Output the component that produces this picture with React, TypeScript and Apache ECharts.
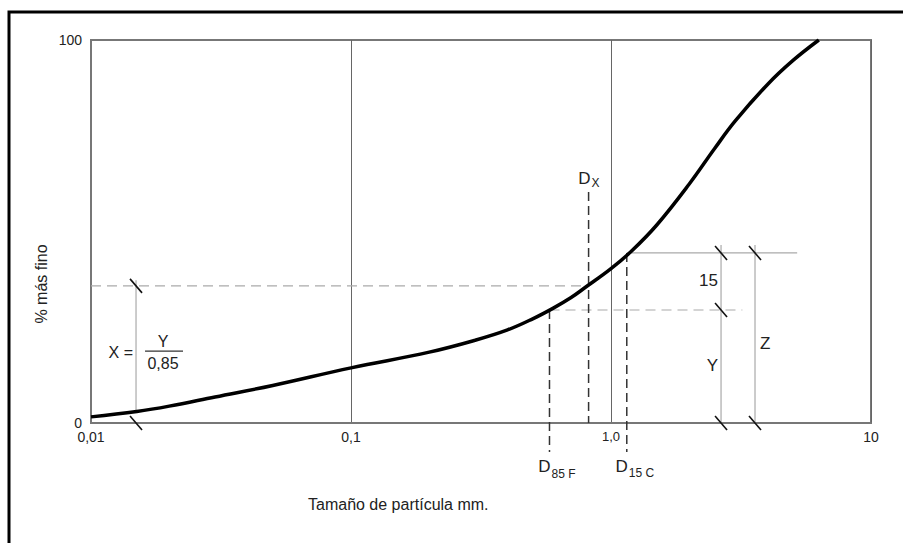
import React, { useEffect, useRef } from 'react';
import * as echarts from 'echarts';

// Particle size (mm) and % finer
const sizes = [0.01, 0.015, 0.02, 0.03, 0.05, 0.1, 0.2, 0.3, 0.4, 0.5, 0.6, 0.7, 0.8, 1.0, 1.2, 1.5, 2, 2.5, 3, 4, 5, 6.3];
const finer = [1.6, 3.0, 4.4, 6.8, 9.8, 14.4, 18.5, 21.6, 24.3, 27.2, 30.0, 32.7, 35.5, 40.3, 44.9, 51.7, 62.4, 71.6, 78.8, 88.4, 94.6, 100];

const xTickLabels: Record<string, string> = { '-2': '0,01', '-1': '0,1', '0': '1,0', '1': '10' };
const yTickLabels: Record<string, string> = { '0': '0', '100': '100' };

// Characteristic points
const d85F = 0.58;
const d15C = 1.15;
const dX = 0.82;
const pY = 29.5;
const pX = 35.8;
const pZ = 44.4;
const dxTop = 60.3;
const dLow = -7.6;
const braceY = 2.65;
const braceZ = 3.58;
const braceX = 0.0149;
const braceTop = 46.5;
const yLineEnd = 3.2;
const zLineEnd = 5.2;

export default function App() {
  const ref = useRef<HTMLDivElement>(null);
  useEffect(() => {
    if (!ref.current) return;
    const chart = echarts.init(ref.current, null, { renderer: 'svg' });
    const font = 'Liberation Sans, Arial, sans-serif';
    const txt = '#222';

    const curve = sizes.map((s, i) => [s, finer[i]]);
    const lightDash = { color: '#aaa', width: 1.2, type: [10, 6] as any };
    const darkDash = { color: '#333', width: 1.5, type: [9, 5] as any };
    const lightSolid = { color: '#aaa', width: 1.2 };

    const seg = (pts: number[][], ls: any) => ({
      type: 'line',
      data: pts,
      showSymbol: false,
      symbol: 'none',
      clip: false,
      silent: true,
      lineStyle: ls,
      z: 2,
    });

    const slashes = [
      [braceX, pX], [braceX, 0],
      [braceY, pZ], [braceY, pY], [braceY, 0],
      [braceZ, pZ], [braceZ, 0],
    ];

    // annotation anchors in data space
    const anchors = [
      [braceY, (pZ + pY) / 2],
      [braceY, pY / 2],
      [braceZ, pZ / 2],
      [dX, dxTop],
      [d85F, dLow],
      [d15C, dLow],
      [braceX, 18.5],
    ];

    const T = (text: string, x: number, y: number, size: number, align = 'center') => ({
      type: 'text',
      x,
      y,
      style: {
        text,
        fill: txt,
        font: `${size}px ${font}`,
        align,
        verticalAlign: 'middle',
        textAlign: align,
        textVerticalAlign: 'middle',
      },
    });

    const renderLabel = (params: any, api: any) => {
      const p = api.coord([api.value(0), api.value(1)]);
      const x = p[0];
      const y = p[1];
      switch (params.dataIndex) {
        case 0:
          return T('15', x - 3, y - 1, 17, 'right');
        case 1:
          return T('Y', x - 3, y - 1, 17, 'right');
        case 2:
          return T('Z', x + 5, y + 6, 17, 'left');
        case 3:
          return {
            type: 'group',
            children: [T('D', x + 2, y - 14, 17, 'right'), T('X', x + 3, y - 9, 12, 'left')],
          };
        case 4:
          return {
            type: 'group',
            children: [T('D', x + 1, y + 14, 17, 'right'), T('85 F', x + 2, y + 22, 12, 'left')],
          };
        case 5:
          return {
            type: 'group',
            children: [T('D', x + 1, y + 14, 17, 'right'), T('15 C', x + 2, y + 21, 12, 'left')],
          };
        case 6:
          return {
            type: 'group',
            children: [
              T('X =', x - 3, y, 16, 'right'),
              T('Y', x + 27, y - 11, 16, 'center'),
              {
                type: 'line',
                shape: { x1: x + 9, y1: y - 1, x2: x + 47, y2: y - 1 },
                style: { stroke: '#333', lineWidth: 1.2 },
              },
              T('0,85', x + 27, y + 11, 16, 'center'),
            ],
          };
      }
      return null;
    };

    chart.setOption({
      animation: false,
      backgroundColor: '#fff',
      grid: {
        left: 91,
        right: 32,
        top: 40,
        bottom: 120,
        show: true,
        borderColor: '#777',
        borderWidth: 2,
        backgroundColor: 'transparent',
      },
      xAxis: {
        type: 'log',
        logBase: 10,
        min: 0.01,
        max: 10,
        axisLine: { show: true, lineStyle: { color: '#777', width: 2 } },
        axisTick: { show: false },
        splitLine: { show: true, lineStyle: { color: '#666', width: 1 } },
        minorSplitLine: { show: false },
        axisLabel: {
          color: txt,
          fontSize: 14,
          fontFamily: font,
          margin: 7,
          formatter: (v: number) => {
            const k = String(Math.round(Math.log10(v)));
            const s = xTickLabels[k] ?? '';
            return k === '0' ? `{s|${s}}` : s;
          },
          rich: { s: { fontSize: 13, color: txt, fontFamily: font } },
        },
      },
      yAxis: {
        type: 'value',
        min: 0,
        max: 100,
        interval: 100,
        axisLine: { show: true, lineStyle: { color: '#777', width: 2 } },
        axisTick: { show: false },
        splitLine: { show: false },
        axisLabel: {
          color: txt,
          fontSize: 14,
          fontFamily: font,
          margin: 9,
          formatter: (v: number) => yTickLabels[String(v)] ?? '',
        },
      },
      graphic: [
        {
          type: 'rect',
          shape: { x: 9, y: 12, width: 920, height: 560 },
          style: { fill: 'none', stroke: '#000', lineWidth: 3 },
          silent: true,
        },
        {
          type: 'text',
          left: 308,
          top: 496,
          style: { text: 'Tamaño de partícula mm.', fill: txt, font: `16px ${font}` },
        },
        {
          type: 'text',
          x: 41,
          y: 284,
          rotation: Math.PI / 2,
          style: {
            text: '% más fino',
            fill: txt,
            font: `16px ${font}`,
            align: 'center',
            verticalAlign: 'middle',
          },
        },
      ],
      series: [
        seg([[0.01, pX], [dX, pX]], lightDash),
        seg([[d85F, pY], [yLineEnd, pY]], lightDash),
        seg([[d15C, pZ], [zLineEnd, pZ]], lightSolid),
        seg([[braceY, braceTop], [braceY, 0]], lightSolid),
        seg([[braceZ, braceTop], [braceZ, 0]], lightSolid),
        seg([[braceX, 37.3], [braceX, 3]], lightSolid),
        seg([[dX, dxTop], [dX, 0]], darkDash),
        seg([[d85F, pY], [d85F, dLow]], darkDash),
        seg([[d15C, pZ], [d15C, dLow]], darkDash),
        {
          type: 'line',
          data: curve,
          smooth: 0.4,
          showSymbol: false,
          symbol: 'none',
          lineStyle: { color: '#000', width: 3.5 },
          z: 5,
          silent: true,
        },
        {
          type: 'custom',
          data: slashes,
          clip: false,
          silent: true,
          z: 6,
          encode: { x: 0, y: 1 },
          renderItem: (_params: any, api: any) => {
            const p = api.coord([api.value(0), api.value(1)]);
            return {
              type: 'line',
              shape: { x1: p[0] - 6, y1: p[1] - 7, x2: p[0] + 6, y2: p[1] + 7 },
              style: { stroke: '#111', lineWidth: 1.6 },
            };
          },
        },
        {
          type: 'custom',
          data: anchors,
          clip: false,
          silent: true,
          z: 7,
          encode: { x: 0, y: 1 },
          renderItem: renderLabel,
        },
      ],
    });
    return () => chart.dispose();
  }, []);
  return (
    <div
      ref={ref}
      style={{ position: 'absolute', left: 0, top: 0, width: 903, height: 543 }}
    />
  );
}
